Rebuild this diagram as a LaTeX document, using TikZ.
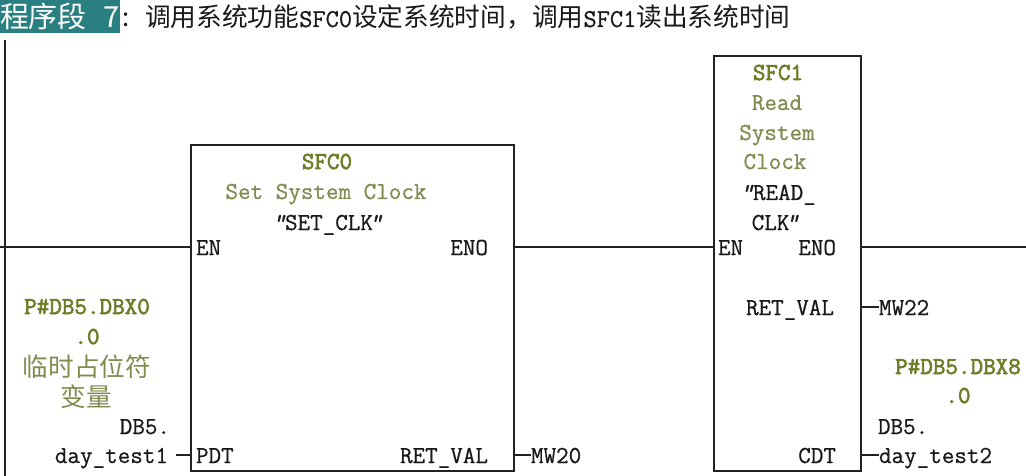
\documentclass[tikz,border=0pt]{standalone}
\usepackage{fontspec}
\newfontfamily\cjk{Noto Sans CJK SC}
\setmonofont{Latin Modern Mono}[RawFeature={embolden=0.7},BoldFont={Latin Modern Mono},BoldFeatures={RawFeature={embolden=2.6}},ItalicFeatures={RawFeature={embolden=0.7}}]
\definecolor{olivebold}{HTML}{6F7C28}
\definecolor{olivetext}{HTML}{7F8C50}
\definecolor{teal7}{HTML}{2A7F80}
\definecolor{wire}{HTML}{222222}
\tikzset{
  lbl/.style={inner sep=0pt,outer sep=0pt,text=black!90,font=\fontsize{24.4}{24.4}\selectfont\ttfamily},
  lc/.style={lbl,anchor=base},
  ll/.style={lbl,anchor=base west},
  lr/.style={lbl,anchor=base east},
  gbold/.style={lc,yshift=1pt,text=olivebold,font=\fontsize{24.4}{24.4}\selectfont\ttfamily\bfseries},
  gtext/.style={lc,yshift=1pt,text=olivetext},
  gcjk/.style={lc,text=olivetext,font=\fontsize{25.6}{25.6}\selectfont\cjk},
  fbox/.style={draw=wire,line width=1.5pt,fill=white,inner sep=0pt,outer sep=0pt,anchor=north west},
  conn/.style={draw=wire,line width=1.3pt},
  ttl/.style={inner sep=0pt,outer sep=0pt,anchor=base west,text=black!90,font=\fontsize{25.7}{25.7}\selectfont\cjk},
  hltx/.style={inner sep=0pt,outer sep=0pt,anchor=base west,text=white,font=\fontsize{29}{29}\selectfont\cjk},
}
\newcommand{\tl}[1]{{\ttfamily\fontsize{25.7}{25.7}\selectfont #1}}
\newcommand{\qt}{{\itshape”}}
\begin{document}
\begin{tikzpicture}[x=1pt,y=-1pt]
\useasboundingbox[fill=white] (0,0) rectangle (1026,476);
% title
\node[fill=teal7,minimum width=120pt,minimum height=33pt,inner sep=0pt,outer sep=0pt,anchor=north west] (hl) at (0,0) {};
\node[hltx] (seg) at (0,28) {程序段};
\node[hltx] (num) at (103,28) {7};
\node[ttl] (colon) at (122,27) {:};
\node[ttl] (title) at (145,27) {调用系统功能\tl{SFC0}设定系统时间，调用\tl{SFC1}读出系统时间};
% boxes
\node[fbox,minimum width=323pt,minimum height=326pt] (sfc0) at (191,145) {};
\node[fbox,minimum width=147pt,minimum height=415pt] (sfc1) at (714,56) {};
% anchors of free ends
\coordinate (railtop) at (5,40);
\coordinate (railbot) at (5,476);
\coordinate (wl) at (0,247);
\coordinate (wr) at (1026,247);
\coordinate (a0) at (191,247);
\coordinate (a1) at (514,247);
\coordinate (a2) at (714,247);
\coordinate (a3) at (861,247);
\coordinate (p0) at (191,455);
\coordinate (r0) at (514,455);
\coordinate (r1) at (861,307);
\coordinate (c1) at (861,455);
% SFC0 texts
\node[gbold] (n0a) at (327,170) {SFC0};
\node[gtext] (n0b) at (326,200) {Set System Clock};
\node[lc] (n0c) at (327,230) {\qt SET\_CLK\hspace{-4pt}\qt};
\node[ll] (en0) at (196,255) {EN};
\node[lr] (eno0) at (488,255) {ENO};
\node[ll] (pdt) at (196,463) {PDT};
\node[lr] (ret0) at (488,463) {RET\_VAL};
\node[ll] (mw20) at (531,463) {MW20};
\node[gbold] (p1a) at (87,315) {P\#DB5.DBX0};
\node[gbold] (p1b) at (87,345) {.0};
\node[gcjk] (p1c) at (87,376) {临时占位符};
\node[gcjk] (p1d) at (86,406) {变量};
\node[lr] (db5a) at (170,434) {DB5.};
\node[lr] (day1) at (168,463) {day\_test1};
% SFC1 texts
\node[gbold] (n1a) at (778,81) {SFC1};
\node[gtext] (n1b) at (777,111) {Read};
\node[gtext] (n1c) at (777,141) {System};
\node[gtext] (n1d) at (775,170) {Clock};
\node[lc] (n1e) at (778,200) {\qt READ\_};
\node[lc] (n1f) at (775,230) {CLK\hspace{-4pt}\qt};
\node[ll] (en1) at (718,255) {EN};
\node[lr] (eno1) at (836,255) {ENO};
\node[lr] (ret1) at (834,315) {RET\_VAL};
\node[ll] (mw22) at (879,315) {MW22};
\node[gbold] (p2a) at (958,375) {P\#DB5.DBX8};
\node[gbold] (p2b) at (958,404) {.0};
\node[ll] (db5b) at (878,434) {DB5.};
\node[ll] (day2) at (879,463) {day\_test2};
\node[lr] (cdt) at (836,463) {CDT};
% connectors
\coordinate (p0s) at ([xshift=8pt]day1.east |- p0);
\path[conn] (railtop) -- (railbot);
\path[conn] (wl) -- (a0);
\path[conn] (a1) -- (a2);
\path[conn] (a3) -- (wr);
\path[conn] (p0s) -- (p0);
\path[conn] (r0) -- (mw20.west |- r0);
\path[conn] (r1) -- (mw22.west |- r1);
\path[conn] (c1) -- (day2.west |- c1);
\end{tikzpicture}
\end{document}
